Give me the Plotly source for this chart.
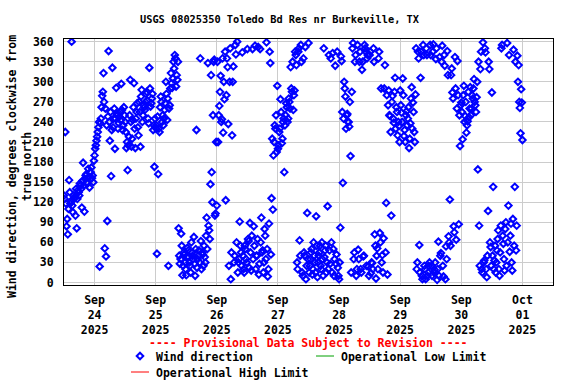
import pandas as pd
import plotly.graph_objects as go

# Wind direction (degrees).
# "_a" lists: samples at :00 and :30; "_b" lists: samples at :15 and :45.
sep23_a = [130, 225, 84, 72, 153, 118, 360, 105, 125, 100, 81, 138, 130, 145, 112, 179,
           106, 160, 150, 170, 142, 165, 156, 150]
sep23_b = [125, 118, 95, 110, 135, 122, 115, 130, 128, 140, 125, 135, 148, 140, 152, 145,
           155, 162, 148, 158, 165, 172, 160, 182]
sep24_a = [190, 205, 218, 232, 24, 245, 279, 313, 51, 39, 92, 346, 212, 159, 321, 245,
           200, 291, 250, 238, 255, 297, 228, 262,
           240, 201, 168, 218, 303, 203, 243, 298, 201, 255, 232, 270, 203, 288, 250, 262,
           270, 285, 245, 321, 263, 275, 228, 173]
sep24_b = [200, 212, 225, 240, 238, 262, 285, 270, 260, 235, 248, 240, 255, 228, 232, 260,
           245, 252, 230, 248, 242, 258, 235, 250,
           225, 210, 205, 250, 240, 215, 262, 230, 245, 268, 220, 255, 278, 240, 265, 258,
           282, 272, 238, 290, 268, 282, 235, 245]
sep25_a = [231, 43, 162, 225, 278, 240, 235, 258, 300, 243, 25, 265, 313, 291, 330, 340,
           293, 303,
           81, 28, 73, 11, 45, 30, 11, 52, 38, 25, 60, 40, 68, 10, 228, 35, 48, 335, 20, 42,
           55, 30, 97, 328, 78, 147, 165, 250, 333, 103]
sep25_b = [235, 248, 230, 262, 270, 250, 245, 268, 282, 275, 260, 290, 298, 305, 320, 335,
           310, 330,
           40, 35, 55, 25, 42, 20, 38, 48, 30, 15, 45, 35, 28, 50, 22, 40, 30, 62, 45, 25,
           38, 70, 50, 85, 65, 310, 120, 330, 100, 210]
sep26_a = [115, 210, 264, 309, 244, 224, 274, 123, 335, 237, 300, 5, 220, 323, 40, 341, 360,
           30, 91, 45, 344, 20, 55, 35, 349, 62, 89, 18, 349, 84, 354, 40, 65, 12, 349, 97,
           48, 30, 70, 359, 9, 88, 328, 126, 109, 210, 230, 195]
sep26_b = [330, 250, 285, 240, 335, 300, 345, 280, 322, 25, 350, 45, 300, 30, 355, 60, 15,
           35, 55, 25, 40, 15, 50, 30, 65, 22, 45, 70, 35, 55, 20, 40, 352, 28, 60, 45, 15,
           80, 35, 50, 20, 345, 42, 215, 190, 235, 250, 294]
sep27_a = [200, 225, 274, 208, 240, 165, 250, 262, 245, 270, 322, 285, 258, 287, 340, 30,
           345, 63, 355, 15, 335, 40, 5, 104, 358,
           25, 45, 12, 60, 30, 99, 8, 40, 55, 20, 35, 350, 48, 15, 114, 340, 28, 60, 343, 10,
           324, 42, 22]
sep27_b = [205, 230, 255, 215, 245, 235, 268, 240, 275, 260, 290, 330, 280, 345, 325, 20,
           350, 40, 330, 10, 45, 352, 25, 35, 15,
           35, 50, 20, 40, 15, 55, 30, 45, 25, 60, 10, 38, 55, 30, 20, 48, 335, 15, 50, 35,
           28, 345, 10]
sep28_a = [5, 82, 331, 149, 300, 278, 250, 240, 233, 189, 285, 358, 45, 340, 20,
           49, 330, 20, 318, 39, 355, 345, 335, 24, 340, 14, 29, 350, 72, 6, 51, 335, 74,
           290, 41, 66, 325, 119, 12, 287, 249, 100, 279, 239, 306, 262, 220, 234]
sep28_b = [30, 338, 255, 245, 290, 230, 252, 240, 270, 15, 350, 35, 330, 10, 355,
           35, 345, 15, 330, 40, 350, 25, 340, 10, 345, 30, 20, 330, 55, 40, 20, 345, 60,
           30, 15, 290, 45, 280, 265, 250, 225, 270, 245, 285, 230, 255, 240, 210]
sep29_a = [287, 254, 305, 219, 210, 256, 245, 201, 238, 292, 269, 225, 281, 20, 345, 56,
           306, 10, 355, 25, 5, 340, 15, 30,
           340, 10, 356, 19, 334, 4, 61, 337, 44, 354, 9, 324, 54, 346, 69, 124, 310, 284,
           84, 337, 64, 331, 87, 204]
sep29_b = [265, 240, 280, 228, 250, 235, 262, 215, 275, 230, 255, 210, 350, 30, 335, 15,
           345, 5, 340, 20, 350, 10, 25, 355,
           25, 345, 15, 30, 350, 20, 10, 40, 330, 25, 340, 5, 35, 310, 60, 55, 320, 275,
           75, 290, 260, 280, 250, 265]
sep30_a = [269, 214, 294, 249, 224, 241, 247, 292, 260, 275, 304, 265, 277, 169, 85, 319,
           20, 359, 33, 344, 8, 107, 319, 53, 284, 143, 33, 15, 48, 78, 10, 85, 355, 58, 18,
           90, 358, 115, 46, 88, 18, 348, 143, 48, 339, 325, 261, 289]
sep30_b = [255, 280, 240, 270, 235, 285, 260, 250, 280, 290, 270, 255, 300, 330, 25, 345,
           15, 30, 350, 20, 40, 330, 60, 25, 40, 20, 55, 30, 65, 20, 45, 350, 70, 35, 80,
           25, 60, 340, 70, 30, 95, 55, 330, 85, 300, 270, 223, 269]
oct01 = [213]

days = [(sep23_a, sep23_b), (sep24_a, sep24_b), (sep25_a, sep25_b), (sep26_a, sep26_b),
        (sep27_a, sep27_b), (sep28_a, sep28_b), (sep29_a, sep29_b), (sep30_a, sep30_b)]
values = []
for a, b in days:
    for u, v in zip(a, b):
        values += [u, v]
values += oct01
times = pd.date_range("2025-09-23 12:00", periods=len(values), freq="15min")

tick_dates = ["2025-09-24", "2025-09-25", "2025-09-26", "2025-09-27",
              "2025-09-28", "2025-09-29", "2025-09-30", "2025-10-01"]
tick_text = ["Sep<br>24<br>2025", "Sep<br>25<br>2025", "Sep<br>26<br>2025",
             "Sep<br>27<br>2025", "Sep<br>28<br>2025", "Sep<br>29<br>2025",
             "Sep<br>30<br>2025", "Oct<br>01<br>2025"]
y_ticks = [0, 30, 60, 90, 120, 150, 180, 210, 240, 270, 300, 330, 360]

FONT = "DejaVu Sans Mono"
BLUE = "#0000FF"

fig = go.Figure()
fig.add_trace(go.Scatter(
    x=times, y=values, mode="markers", name="Wind direction",
    marker=dict(symbol="diamond-open", size=5, color=BLUE,
                line=dict(width=2, color=BLUE)),
    showlegend=False,
))

W, H = 576, 384
L, R, T, B = 64, 23, 39, 99
pw, ph = W - L - R, H - T - B


def px(xp):
    return (xp - L) / pw


def py(yp):
    return (H - B - yp) / ph


fig.update_layout(
    template="none",
    width=W, height=H,
    margin=dict(l=L, r=R, t=T, b=B, autoexpand=False),
    paper_bgcolor="white", plot_bgcolor="white",
    font=dict(family=FONT, size=11, color="black"),
    xaxis=dict(
        range=["2025-09-23 12:00", "2025-10-01 12:00"],
        tickvals=tick_dates, ticktext=tick_text, automargin=False,
        tickfont=dict(family=FONT, size=11.5, color="black", weight="bold"),
        showgrid=True, gridcolor="#CCCCCC", gridwidth=1,
        showline=True, linecolor="black", linewidth=1, mirror=True,
        ticks="", zeroline=False, ticklabelstandoff=4,
    ),
    yaxis=dict(
        range=[-3.7, 364],
        tickvals=y_ticks, automargin=False,
        tickfont=dict(family=FONT, size=11.5, color="black", weight="bold"),
        showgrid=True, gridcolor="#CCCCCC", gridwidth=1,
        showline=True, linecolor="black", linewidth=1, mirror=True,
        ticks="", zeroline=False, ticklabelstandoff=7,
    ),
)

ann = []
ann.append(dict(text="USGS 08025350 Toledo Bd Res nr Burkeville, TX",
                x=px(280), y=py(19), xref="paper", yref="paper", showarrow=False,
                font=dict(family=FONT, size=10.3, color="black", weight="bold"),
                xanchor="center", yanchor="middle"))
ann.append(dict(text="Wind direction, degrees clockwise from<br>true north",
                x=px(19), y=py(167), xref="paper", yref="paper", showarrow=False,
                textangle=-90,
                font=dict(family=FONT, size=11.5, color="black", weight="bold"),
                xanchor="center", yanchor="middle"))
ann.append(dict(text="---- Provisional Data Subject to Revision ----",
                x=px(308), y=py(343), xref="paper", yref="paper", showarrow=False,
                font=dict(family=FONT, size=11.5, color="#FF0000", weight="bold"),
                xanchor="center", yanchor="middle"))
for label, xl, yl in [("Wind direction", 154, 357),
                      ("Operational Low Limit", 339, 357),
                      ("Operational High Limit", 154, 373)]:
    ann.append(dict(text=label, x=px(xl), y=py(yl), xref="paper", yref="paper",
                    showarrow=False, xanchor="left", yanchor="middle",
                    font=dict(family=FONT, size=11.5, color="black", weight="bold")))
fig.update_layout(annotations=ann)

# legend symbols
cx, cy, d = 140, 356, 3.3
diamond = (f"M {px(cx)},{py(cy - d)} L {px(cx + d)},{py(cy)} "
           f"L {px(cx)},{py(cy + d)} L {px(cx - d)},{py(cy)} Z")
fig.add_shape(type="path", path=diamond, xref="paper", yref="paper",
              line=dict(color=BLUE, width=2))
fig.add_shape(type="line", x0=px(316), x1=px(334), y0=py(356), y1=py(356),
              xref="paper", yref="paper", line=dict(color="#00A000", width=1))
fig.add_shape(type="line", x0=px(131), x1=px(149), y0=py(372), y1=py(372),
              xref="paper", yref="paper", line=dict(color="#FF0000", width=1))

fig.write_html("out.html", config={"displayModeBar": False},
               post_script="document.body.style.margin='0';"
                           "document.body.style.overflow='hidden';")
